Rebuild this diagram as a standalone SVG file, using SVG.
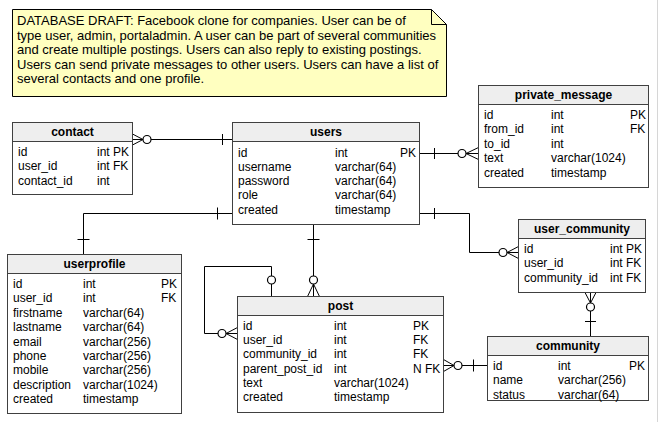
<svg xmlns="http://www.w3.org/2000/svg" width="659" height="422" viewBox="0 0 659 422">
<style>
text{font-family:"Liberation Sans",Arial,sans-serif;font-size:12px;fill:#000}
.n{font-size:13px}
.h{font-weight:bold;text-anchor:middle}
.box{fill:#fff;stroke:#404040;stroke-width:1}
.hd{fill:#eeeeee;stroke:#404040;stroke-width:1}
.conn path{fill:none;stroke:#000;stroke-width:1}
.conn circle{fill:#fff;stroke:#000;stroke-width:1.2}
</style>
<rect x="657" y="0" width="1" height="422" fill="#d6d6d6"/>
<g id="note">
<path d="M12.5,9.5 H431.5 L446.5,24.5 V96.5 H12.5 Z" fill="#ffffc0" stroke="#000"/>
<path d="M431.5,9.5 V24.5 H446.5" fill="none" stroke="#000"/>
<text class="n" x="17" y="25.3">DATABASE DRAFT: Facebook clone for companies. User can be of</text>
<text class="n" x="17" y="39.7">type user, admin, portaladmin. A user can be part of several communities</text>
<text class="n" x="17" y="54.1">and create multiple postings. Users can also reply to existing postings.</text>
<text class="n" x="17" y="68.5">Users can send private messages to other users. Users can have a list of</text>
<text class="n" x="17" y="82.9">several contacts and one profile.</text>
</g>
<g id="connectors" class="conn">
<path d="M132.5,139.5 H232.5"/>
<path d="M132.5,134 L143,139.5 L132.5,145"/>
<path d="M222.5,134 V145"/>
<circle cx="147" cy="139.5" r="4"/>
<path d="M419.5,153.5 H478.5"/>
<path d="M434.5,148 V159"/>
<path d="M478.5,147.5 L466,153.5 L478.5,159.5"/>
<circle cx="462" cy="153.5" r="4"/>
<path d="M419.5,213.5 H469.5 V252.5 H518.5"/>
<path d="M434.5,208 V219"/>
<path d="M518.5,246.5 L507,252.5 L518.5,258.5"/>
<circle cx="503" cy="252.5" r="4"/>
<path d="M232.5,213.5 H83.5 V254.5"/>
<path d="M217.5,207.5 V219.5"/>
<path d="M77.5,239.5 H89.5"/>
<path d="M313.5,224.5 V296.5"/>
<path d="M307.5,239.5 H319.5"/>
<path d="M307.5,296.5 L313.5,284 L319.5,296.5"/>
<circle cx="313.5" cy="280" r="4"/>
<path d="M271.5,296.5 V266.5 H204.5 V333.5 H237.5"/>
<path d="M237.5,327.5 L226,333.5 L237.5,339.5"/>
<circle cx="271.5" cy="280" r="4"/>
<circle cx="222" cy="333.5" r="4"/>
<path d="M443.5,365.5 H487.5"/>
<path d="M443.5,359.5 L454,365.5 L443.5,371.5"/>
<path d="M473.5,359.5 V371.5"/>
<circle cx="458" cy="365.5" r="4"/>
<path d="M590.5,292.5 V336.5"/>
<path d="M585,292.5 L590.5,303 L596,292.5"/>
<path d="M585,321.5 H596"/>
<circle cx="590.5" cy="307" r="4"/>
</g>
<g id="contact">
<rect class="box" x="12.5" y="122.5" width="120" height="72"/>
<rect class="hd" x="12.5" y="122.5" width="120" height="19"/>
<text class="h" x="72.5" y="135.5">contact</text>
<text x="18" y="156">id</text><text x="97" y="156">int PK</text>
<text x="18" y="170.4">user_id</text><text x="97" y="170.4">int FK</text>
<text x="18" y="184.8">contact_id</text><text x="97" y="184.8">int</text>
</g>
<g id="users">
<rect class="box" x="232.5" y="122.5" width="187" height="102"/>
<rect class="hd" x="232.5" y="122.5" width="187" height="19"/>
<text class="h" x="326" y="135.5">users</text>
<text x="238" y="156.5">id</text><text x="335" y="156.5">int</text><text x="400" y="156.5">PK</text>
<text x="238" y="170.8">username</text><text x="335" y="170.8">varchar(64)</text>
<text x="238" y="185.1">password</text><text x="335" y="185.1">varchar(64)</text>
<text x="238" y="199.4">role</text><text x="335" y="199.4">varchar(64)</text>
<text x="238" y="213.7">created</text><text x="335" y="213.7">timestamp</text>
</g>
<g id="private_message">
<rect class="box" x="478.5" y="85.5" width="170" height="102"/>
<rect class="hd" x="478.5" y="85.5" width="170" height="19"/>
<text class="h" x="563.5" y="98.5">private_message</text>
<text x="484" y="119">id</text><text x="551" y="119">int</text><text x="630" y="119">PK</text>
<text x="484" y="133.4">from_id</text><text x="551" y="133.4">int</text><text x="630" y="133.4">FK</text>
<text x="484" y="147.8">to_id</text><text x="551" y="147.8">int</text>
<text x="484" y="162.2">text</text><text x="551" y="162.2">varchar(1024)</text>
<text x="484" y="176.6">created</text><text x="551" y="176.6">timestamp</text>
</g>
<g id="userprofile">
<rect class="box" x="7.5" y="254.5" width="174" height="159"/>
<rect class="hd" x="7.5" y="254.5" width="174" height="19"/>
<text class="h" x="94.5" y="267.5">userprofile</text>
<text x="13" y="288">id</text><text x="83" y="288">int</text><text x="161" y="288">PK</text>
<text x="13" y="302.4">user_id</text><text x="83" y="302.4">int</text><text x="161" y="302.4">FK</text>
<text x="13" y="316.8">firstname</text><text x="83" y="316.8">varchar(64)</text>
<text x="13" y="331.2">lastname</text><text x="83" y="331.2">varchar(64)</text>
<text x="13" y="345.6">email</text><text x="83" y="345.6">varchar(256)</text>
<text x="13" y="360">phone</text><text x="83" y="360">varchar(256)</text>
<text x="13" y="374.4">mobile</text><text x="83" y="374.4">varchar(256)</text>
<text x="13" y="388.8">description</text><text x="83" y="388.8">varchar(1024)</text>
<text x="13" y="403.2">created</text><text x="83" y="403.2">timestamp</text>
</g>
<g id="post">
<rect class="box" x="237.5" y="296.5" width="206" height="116"/>
<rect class="hd" x="237.5" y="296.5" width="206" height="19"/>
<text class="h" x="340.5" y="309.5">post</text>
<text x="243" y="330">id</text><text x="334" y="330">int</text><text x="413" y="330">PK</text>
<text x="243" y="344.2">user_id</text><text x="334" y="344.2">int</text><text x="413" y="344.2">FK</text>
<text x="243" y="358.4">community_id</text><text x="334" y="358.4">int</text><text x="413" y="358.4">FK</text>
<text x="243" y="372.6">parent_post_id</text><text x="334" y="372.6">int</text><text x="413" y="372.6">N FK</text>
<text x="243" y="386.8">text</text><text x="334" y="386.8">varchar(1024)</text>
<text x="243" y="401">created</text><text x="334" y="401">timestamp</text>
</g>
<g id="user_community">
<rect class="box" x="518.5" y="219.5" width="127" height="73"/>
<rect class="hd" x="518.5" y="219.5" width="127" height="19"/>
<text class="h" x="582" y="232.5">user_community</text>
<text x="524" y="253">id</text><text x="610" y="253">int PK</text>
<text x="524" y="267.4">user_id</text><text x="610" y="267.4">int FK</text>
<text x="524" y="281.8">community_id</text><text x="610" y="281.8">int FK</text>
</g>
<g id="community">
<rect class="box" x="487.5" y="336.5" width="161" height="64"/>
<rect class="hd" x="487.5" y="336.5" width="161" height="19"/>
<text class="h" x="568" y="349.5">community</text>
<text x="493" y="370">id</text><text x="558" y="370">int</text><text x="629" y="370">PK</text>
<text x="493" y="384.4">name</text><text x="558" y="384.4">varchar(256)</text>
<text x="493" y="398.8">status</text><text x="558" y="398.8">varchar(64)</text>
</g>
</svg>
